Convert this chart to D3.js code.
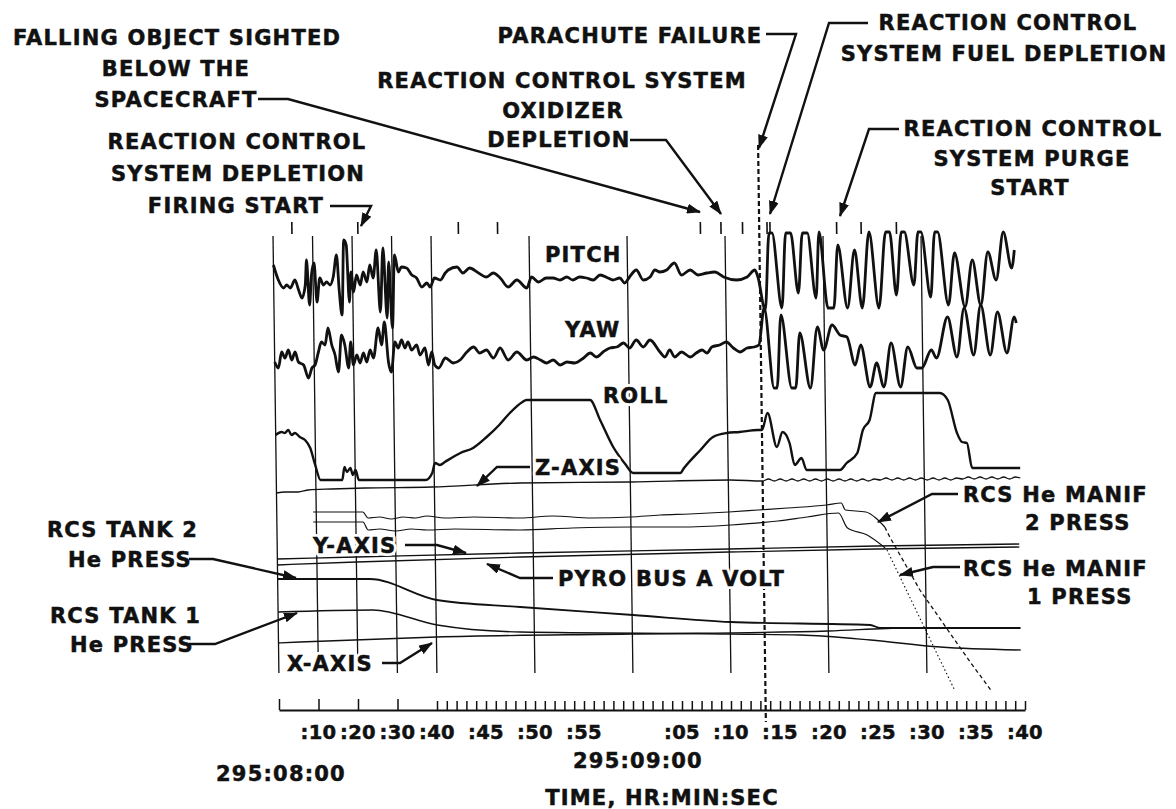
<!DOCTYPE html>
<html>
<head>
<meta charset="utf-8">
<script src="https://cdn.jsdelivr.net/npm/d3@7"></script>
<style>
  body { margin: 0; background: #fff; }
  svg text {
    font-family: "DejaVu Sans", sans-serif;
    font-weight: bold;
    font-size: 21px;
    letter-spacing: 1.2px;
    fill: #111;
    stroke: #111;
    stroke-width: 0.5px;
  }
  svg text.tlabel { font-size: 19.5px; letter-spacing: 0.3px; }
  svg text.halo { fill: #fff; stroke: #fff; stroke-width: 6px; stroke-linejoin: round; }
</style>
</head>
<body>
<svg id="chart" width="1176" height="809"></svg>
<script>
// seconds after 295:08:00, trace deflection in chart divisions
const pitch = [[0,41.5],[1.2,40.0],[2.5,39.2],[3.3,39.5],[4.2,39.2],[5.4,40.0],[6.3,39.0],[7.1,38.2],[8.0,39.5],[8.4,42.0],[9.0,37.5],[9.6,40.5],[10.3,41.7],[10.9,37.8],[11.7,40.2],[12.6,39.5],[13.4,39.8],[14.3,39.5],[15.1,40.3],[16.0,42.5],[16.6,38.8],[17.2,36.5],[17.9,44.0],[18.5,43.5],[19.1,37.8],[19.6,40.8],[20.2,38.8],[21.0,40.5],[21.9,39.5],[22.7,40.8],[23.6,39.8],[24.4,41.5],[25.2,40.2],[26.1,43.0],[26.9,36.8],[27.8,43.2],[28.6,36.2],[29.2,41.8],[29.9,35.2],[30.7,42.5],[31.6,40.8],[32.4,41.3],[33.7,41.2],[35.0,40.5],[36.2,40.2],[37.5,39.3],[38.8,39.7],[39.6,39.3],[40.3,40.2],[40.9,40.0],[41.4,40.7],[41.7,41.0],[42.6,41.3],[43.2,40.7],[43.9,41.2],[44.8,40.7],[45.6,40.3],[46.3,40.7],[47.0,40.2],[47.8,39.3],[48.7,40.0],[49.7,39.2],[50.2,40.3],[50.9,39.8],[51.7,40.2],[52.4,40.2],[53.1,40.0],[53.8,40.3],[54.4,40.0],[55.1,40.3],[55.8,40.2],[56.5,40.0],[57.2,40.5],[58.0,40.2],[58.5,40.0],[59.2,40.2],[59.7,39.7],[60.2,40.3],[60.9,41.0],[61.6,40.0],[62.3,40.3],[62.8,41.0],[63.3,40.8],[64.0,41.0],[64.8,41.7],[65.5,40.5],[66.4,41.0],[67.2,40.5],[68.1,40.7],[68.9,40.8],[69.8,40.3],[71.1,40.0],[72.2,40.3],[73.0,41.0],[73.3,40.3],[74.0,37.0],[74.5,44.7],[74.8,44.7],[75.7,37.2],[76.2,44.7],[76.7,44.7],[77.4,38.7],[77.9,44.7],[78.4,44.7],[79.2,38.2],[79.6,44.8],[80.4,37.2],[81.0,37.2],[81.5,43.5],[82.4,37.2],[83.2,43.0],[83.9,37.2],[84.7,44.8],[85.6,37.2],[86.4,44.8],[86.8,44.8],[87.4,38.5],[88.0,44.8],[88.3,44.8],[89.2,39.5],[89.7,44.8],[90.0,44.8],[90.9,38.3],[91.4,44.8],[91.7,44.8],[92.7,37.5],[93.4,42.7],[94.4,37.3],[95.2,42.0],[96.0,37.5],[96.8,42.8],[97.6,40.0],[98.4,44.8],[99.2,41.2],[99.5,43.0]];

const yaw = [[0,31.8],[0.9,31.2],[1.8,32.8],[2.6,32.2],[3.5,33.0],[4.3,32.0],[5.2,32.8],[6.0,31.8],[7.3,31.5],[8.5,30.2],[9.4,31.2],[10.2,31.5],[11.1,32.8],[11.9,33.8],[12.8,33.5],[13.6,35.2],[14.5,33.5],[15.3,32.5],[16.1,30.8],[17.0,34.5],[17.8,33.5],[18.7,31.2],[19.3,33.8],[19.9,31.5],[20.8,32.5],[21.6,31.7],[22.5,32.7],[23.3,31.8],[24.2,33.0],[25.0,32.2],[26.3,35.2],[27.1,33.5],[27.9,35.8],[28.8,31.8],[29.5,30.8],[30.5,33.8],[31.3,33.2],[32.2,34.0],[33.0,33.2],[33.8,33.8],[34.7,33.0],[36.0,33.5],[36.8,32.5],[38.1,33.2],[38.9,31.5],[39.8,32.8],[40.2,31.5],[40.6,31.2],[41.3,32.2],[42.1,31.7],[42.8,32.0],[43.5,32.8],[44.2,33.3],[44.8,32.7],[45.5,33.0],[46.2,32.2],[46.9,33.2],[47.7,32.0],[48.6,32.8],[49.6,32.0],[50.3,32.3],[51.0,32.0],[51.6,31.7],[52.3,32.0],[53.0,31.5],[53.7,31.8],[54.5,31.7],[55.4,32.2],[56.1,32.7],[56.7,32.3],[57.4,32.8],[58.1,33.2],[58.8,33.3],[59.5,33.7],[60.1,33.2],[60.8,34.0],[61.5,33.3],[62.2,34.0],[63.2,32.8],[63.7,32.3],[64.2,33.0],[64.7,32.3],[65.4,32.8],[66.3,32.3],[66.9,32.7],[67.5,33.0],[68.0,32.7],[68.5,33.3],[69.3,33.5],[70.0,33.8],[70.7,33.2],[71.4,32.8],[72.1,33.2],[72.8,33.3],[73.3,33.5],[73.9,37.2],[74.8,29.2],[75.1,29.2],[75.6,36.5],[76.6,29.2],[77.0,29.2],[77.5,34.7],[78.5,29.2],[79.3,35.3],[79.9,33.0],[80.8,35.5],[81.6,34.5],[82.3,34.3],[83.1,31.5],[83.7,33.5],[84.6,29.3],[85.3,31.7],[86.0,29.3],[86.8,33.7],[87.7,29.3],[88.5,33.3],[89.4,31.2],[89.9,31.2],[90.9,33.0],[91.4,32.2],[92.6,36.3],[93.5,32.3],[94.3,37.2],[95.2,32.5],[96.0,37.5],[96.9,32.5],[97.7,36.8],[98.6,32.7],[99.4,36.3],[99.6,35.7]];

const roll = [[0,24.5],[1.5,24.8],[2.3,24.7],[3.2,25.0],[4.0,24.5],[4.9,24.7],[6.1,24.3],[7.4,24.0],[8.7,23.2],[9.9,21.5],[11.2,20.0],[16.7,20.0],[17.3,21.3],[17.9,20.8],[18.8,21.2],[19.4,20.5],[20.1,21.0],[20.9,20.0],[37.8,20.0],[39.5,20.7],[40.1,21.7],[40.6,21.5],[41.1,21.8],[42.7,22.7],[44.0,23.2],[45.4,24.3],[46.7,25.5],[47.8,26.7],[49.1,27.8],[49.5,28.0],[56.0,28.0],[57.0,26.0],[58.3,23.3],[59.5,21.6],[60.3,20.7],[65.1,20.7],[65.5,21.2],[67.2,23.0],[68.5,24.3],[69.9,24.7],[71.2,24.8],[73.1,25.0],[73.5,25.0],[74.1,26.7],[75.0,23.3],[75.6,24.8],[76.3,23.7],[76.8,21.5],[77.5,22.2],[78.0,21.0],[81.4,21.0],[82.1,21.7],[83.2,22.7],[83.8,25.0],[84.5,26.0],[85.2,28.7],[91.7,28.7],[92.5,28.0],[93.4,24.7],[93.9,23.8],[94.4,23.7],[94.9,21.2],[99.8,21.2]];

const zAxis = [[0,18.7],[2.2,18.8],[5.5,18.8],[8.1,19.0],[14.0,19.1],[22.4,19.2],[39.3,19.3],[48.7,19.7],[60.0,19.8],[70.2,20.0],[73.5,19.9],[74.1,20.1],[74.7,19.9],[75.3,20.1],[75.9,19.9],[76.5,20.1],[77.1,19.9],[77.7,20.1],[78.3,19.9],[78.9,20.1],[79.5,19.9],[80.1,20.1],[80.7,19.9],[81.3,20.1],[81.9,19.9],[82.5,20.1],[83.1,19.9],[83.7,20.1],[84.3,19.9],[84.9,20.1],[85.5,20.0],[86.1,20.2],[86.7,20.0],[87.3,20.2],[87.9,20.0],[88.5,20.2],[89.1,20.0],[89.7,20.2],[90.3,20.0],[90.9,20.2],[91.5,20.0],[92.1,20.2],[92.7,20.0],[93.3,20.2],[93.9,20.1],[94.5,20.3],[95.1,20.1],[95.7,20.3],[96.3,20.1],[96.9,20.3],[97.5,20.1],[98.1,20.3],[98.7,20.1],[99.3,20.3],[99.8,20.2]];

const manif2 = [[9.2,16.8],[21.8,16.8],[23.1,16.2],[26,16.3],[29,16.1],[32,16.3],[35,16.2],[38,16.4],[41,16.2],[44,16.3],[48.7,16.2],[52,16.4],[56,16.2],[60,16.3],[63,16.5],[66,16.6],[70,16.8],[73,17.0],[76,17.2],[80,17.5],[81.5,17.7],[81.9,17.0],[84,16.8],[85,16.2],[85.9,15.3]];
const manif2Fall = [[85.9,15.3],[86.4,14.3],[89.4,9.0],[94.5,1.7],[96.5,-1.0]];
const manif1 = [[9.2,15.8],[21.8,15.8],[23.1,15.0],[26,15.1],[30,14.9],[34,15.1],[38,15.0],[42,15.1],[48.7,15.0],[54,15.2],[60.1,15.3],[65,15.3],[70.2,15.5],[75,15.9],[78,16.3],[81.2,16.7],[82.1,15.2],[84.1,14.5],[85.8,13.3]];
const manif1Fall = [[85.8,13.3],[86.1,13.0],[91.5,1.7],[92.8,-1.0]];

const yAxisRate = [[0,12.1],[20,12.3],[48.7,12.7],[70,13.1],[85,13.4],[99.6,13.6]];
const pyroBusA = [[0,11.5],[20,11.8],[48.7,12.3],[70,12.8],[85,13.1],[99.6,13.3]];
const tank2 = [[0,10.1],[23.3,10.1],[40.1,8.0],[48.6,7.3],[60.1,6.5],[70.0,5.8],[84.3,5.5],[85.3,5.2],[99.6,5.2]];
const tank1 = [[0,6.8],[24.0,7.0],[40.1,5.5],[48.6,4.8],[70.0,4.6],[77.1,4.5],[84.3,4.0],[91.4,3.3],[99.6,3.0]];
const xAxisRate = [[0,3.7],[5.4,3.8],[40.0,4.3],[60,4.6],[80,4.9],[88,5.2],[99.6,5.2]];

const gridSeconds = [0, 10, 20, 30, 40, 50, 60, 70, 80, 90];
const eventSeconds = [4.8, 21.5, 42.8, 46.8, 67.5, 69.6, 71.8, 74.3, 74.6, 81.4, 83.9, 87.5];
const parachuteFailure = 73.5;
const majorTicks = [0, 10, 20, 30];
const secondTicks = d3.range(40, 101);
const tickSeconds = [10, 20, 30, 40, 45, 50, 55, 65, 70, 75, 80, 85, 90, 95, 100];
const tickLabels = [":10", ":20", ":30", ":40", ":45", ":50", ":55", ":05", ":10", ":15", ":20", ":25", ":30", ":35", ":40"];

const svg = d3.select("#chart");
// recorder paper speed changes at :40
const x = d3.scaleLinear().domain([0, 40, 100]).range([279, 437, 1025]);
const y = d3.scaleLinear().domain([0, 44.5]).range([680, 235]);
const slant = Math.atan(6 / 445) * 180 / Math.PI;

svg.append("defs").append("marker")
  .attr("id", "arrow")
  .attr("viewBox", "0 0 14 10")
  .attr("refX", 13).attr("refY", 5)
  .attr("markerWidth", 14).attr("markerHeight", 10)
  .attr("markerUnits", "userSpaceOnUse")
  .attr("orient", "auto")
  .append("path").attr("d", "M0,0L14,5L0,10Z").attr("fill", "#111");

// the strip chart paper is slightly skewed
const paper = svg.append("g")
  .attr("transform", `translate(0,680) skewX(${slant}) translate(0,-680)`);

paper.selectAll(".grid").data(gridSeconds).join("line")
  .attr("class", "grid")
  .attr("x1", d => x(d)).attr("x2", d => x(d))
  .attr("y1", y(44.4)).attr("y2", y(0.7))
  .attr("stroke", "#111").attr("stroke-width", 1.3);

paper.selectAll(".event").data(eventSeconds).join("line")
  .attr("class", "event")
  .attr("x1", d => x(d)).attr("x2", d => x(d))
  .attr("y1", 222).attr("y2", 234)
  .attr("stroke", "#111").attr("stroke-width", 1.6);

paper.append("line")
  .attr("x1", x(parachuteFailure)).attr("x2", x(parachuteFailure))
  .attr("y1", 145).attr("y2", 722)
  .attr("stroke", "#111").attr("stroke-width", 2.2)
  .attr("stroke-dasharray", "5,3");

const smooth = d3.line().x(d => x(d[0])).y(d => y(d[1])).curve(d3.curveMonotoneX);
const straight = d3.line().x(d => x(d[0])).y(d => y(d[1]));

const traces = [
  { data: xAxisRate, w: 1.4, gen: smooth },
  { data: tank1, w: 1.4, gen: smooth },
  { data: tank2, w: 1.8, gen: smooth },
  { data: pyroBusA, w: 1.3, gen: smooth },
  { data: yAxisRate, w: 1.3, gen: smooth },
  { data: manif1, w: 1.2, gen: smooth },
  { data: manif2, w: 1.2, gen: smooth },
  { data: manif1Fall, w: 1.1, gen: straight, dash: "1.5,2.5" },
  { data: manif2Fall, w: 1.3, gen: straight, dash: "4,3" },
  { data: zAxis, w: 1.3, gen: smooth },
  { data: roll, w: 2.4, gen: smooth },
  { data: yaw, w: 2.8, gen: smooth },
  { data: pitch, w: 2.8, gen: smooth }
];

paper.selectAll(".trace").data(traces).join("path")
  .attr("class", "trace")
  .attr("d", d => d.gen(d.data))
  .attr("fill", "none")
  .attr("stroke", "#111")
  .attr("stroke-width", d => d.w)
  .attr("stroke-linejoin", "round")
  .attr("stroke-dasharray", d => d.dash || null);

// time axis along the bottom
const axisY = 710;
const major = svg.append("g").attr("transform", `translate(0,${axisY})`)
  .call(d3.axisTop(x).tickValues(majorTicks).tickSize(11).tickSizeOuter(0).tickFormat(""));
const minor = svg.append("g").attr("transform", `translate(0,${axisY})`)
  .call(d3.axisTop(x).tickValues(secondTicks).tickSize(9).tickSizeOuter(0).tickFormat(""));
minor.select(".domain").remove();
major.select(".domain").attr("stroke", "#111").attr("stroke-width", 2.2);
svg.selectAll(".tick line").attr("stroke", "#111").attr("stroke-width", 1.5);

svg.selectAll(".tlabel").data(tickSeconds).join("text")
  .attr("class", "tlabel")
  .attr("x", d => x(d)).attr("y", 739)
  .attr("text-anchor", "middle")
  .text((d, i) => tickLabels[i]);

svg.append("text").attr("x", x(0) + 2).attr("y", 781).attr("text-anchor", "middle").text("295:08:00");
svg.append("text").attr("x", x(60) + 5).attr("y", 768).attr("text-anchor", "middle").text("295:09:00");
svg.append("text").attr("x", 662).attr("y", 805).attr("text-anchor", "middle").text("TIME, HR:MIN:SEC");

// annotations
const notes = [
  { t: "FALLING OBJECT SIGHTED", x: 177, y: 45, a: "middle" },
  { t: "BELOW THE", x: 176, y: 76, a: "middle" },
  { t: "SPACECRAFT", x: 176, y: 107, a: "middle" },
  { t: "REACTION CONTROL", x: 237, y: 149, a: "middle" },
  { t: "SYSTEM DEPLETION", x: 238, y: 181, a: "middle" },
  { t: "FIRING START", x: 236, y: 213, a: "middle" },
  { t: "PARACHUTE FAILURE", x: 630, y: 43, a: "middle" },
  { t: "REACTION CONTROL SYSTEM", x: 562, y: 88, a: "middle" },
  { t: "OXIDIZER", x: 563, y: 118, a: "middle" },
  { t: "DEPLETION", x: 559, y: 147, a: "middle" },
  { t: "REACTION CONTROL", x: 1008, y: 30, a: "middle" },
  { t: "SYSTEM FUEL DEPLETION", x: 1004, y: 61, a: "middle" },
  { t: "REACTION CONTROL", x: 1033, y: 136, a: "middle" },
  { t: "SYSTEM PURGE", x: 1032, y: 166, a: "middle" },
  { t: "START", x: 1030, y: 195, a: "middle" },
  { t: "PITCH", x: 545, y: 262, halo: true },
  { t: "YAW", x: 565, y: 337, halo: true },
  { t: "ROLL", x: 603, y: 403, halo: true },
  { t: "Z-AXIS", x: 535, y: 475, halo: true },
  { t: "RCS He MANIF", x: 963, y: 502 },
  { t: "2 PRESS", x: 1025, y: 530 },
  { t: "RCS He MANIF", x: 963, y: 576 },
  { t: "1 PRESS", x: 1027, y: 604 },
  { t: "RCS TANK 2", x: 47, y: 537 },
  { t: "He PRESS", x: 68, y: 567 },
  { t: "RCS TANK 1", x: 50, y: 623 },
  { t: "He PRESS", x: 70, y: 652 },
  { t: "Y-AXIS", x: 313, y: 553, halo: true },
  { t: "X-AXIS", x: 287, y: 671, halo: true },
  { t: "PYRO BUS A VOLT", x: 558, y: 586, halo: true }
];

const leaders = [
  [[258, 99], [288, 99], [700, 212]],
  [[330, 206], [371, 206], [361, 226]],
  [[766, 34], [796, 34], [759, 148]],
  [[630, 140], [666, 140], [721, 214]],
  [[868, 23], [829, 23], [770, 214]],
  [[899, 129], [869, 129], [840, 216]],
  [[189, 559], [213, 559], [296, 578]],
  [[189, 644], [215, 644], [297, 613]],
  [[405, 545], [437, 545], [466, 553]],
  [[382, 663], [400, 663], [432, 643]],
  [[553, 578], [520, 578], [487, 564]],
  [[530, 467], [497, 467], [477, 486]],
  [[958, 494], [932, 494], [878, 522]],
  [[960, 567], [933, 567], [900, 575]]
];

// white backing so grid lines break around labels inside the chart
svg.selectAll(".backing").data(notes.filter(d => d.halo)).join("text")
  .attr("class", "backing halo")
  .attr("x", d => d.x).attr("y", d => d.y)
  .attr("text-anchor", d => d.a || "start")
  .text(d => d.t);

svg.selectAll(".note").data(notes).join("text")
  .attr("class", "note")
  .attr("x", d => d.x).attr("y", d => d.y)
  .attr("text-anchor", d => d.a || "start")
  .text(d => d.t);

svg.selectAll(".leader").data(leaders).join("path")
  .attr("class", "leader")
  .attr("d", d3.line())
  .attr("fill", "none")
  .attr("stroke", "#111")
  .attr("stroke-width", 2.4)
  .attr("marker-end", "url(#arrow)");
</script>
</body>
</html>
